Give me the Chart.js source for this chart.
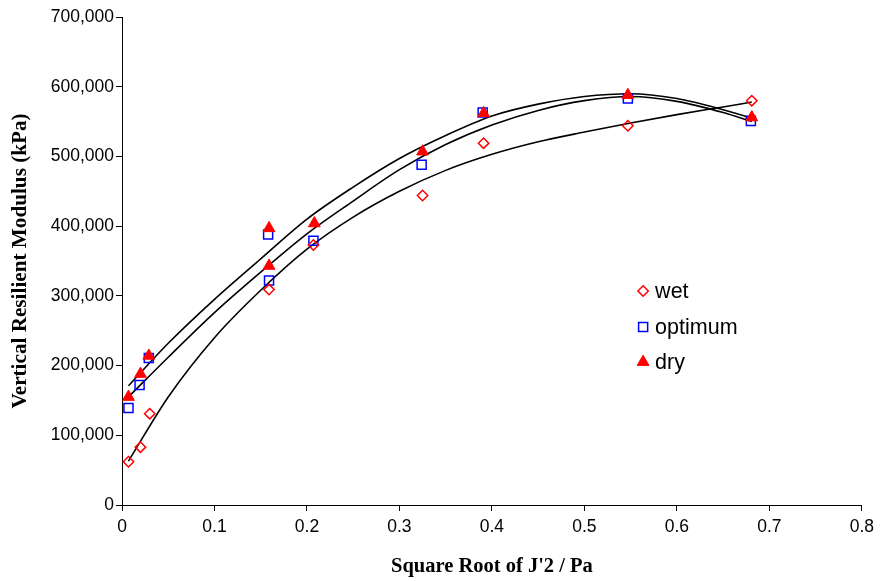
<!DOCTYPE html>
<html>
<head>
<meta charset="utf-8">
<script src="https://cdn.jsdelivr.net/npm/chart.js@4/dist/chart.umd.min.js"></script>
<style>
  html, body { margin: 0; padding: 0; background: #ffffff; }
  #wrap { width: 880px; height: 581px; }
</style>
</head>
<body>
<div id="wrap"><canvas id="c" width="880" height="581"></canvas></div>
<script>
// Measured resilient modulus (kPa) against square root of J'2 / Pa
const wetX = [0.007, 0.020, 0.030, 0.159, 0.207, 0.325, 0.391, 0.547, 0.681];
const wetY = [62000, 83000, 131000, 309000, 373000, 444000, 519000, 544000, 580000];

const optimumX = [0.007, 0.019, 0.029, 0.159, 0.158, 0.207, 0.324, 0.390, 0.547, 0.680];
const optimumY = [139000, 172000, 211000, 322000, 388000, 379000, 488000, 563000, 583000, 551000];

const dryX = [0.007, 0.020, 0.029, 0.159, 0.159, 0.208, 0.325, 0.391, 0.547, 0.681];
const dryY = [155000, 188000, 214000, 343000, 397000, 404000, 507000, 562000, 588000, 556000];

// Trend curves for each moisture condition
const trendX = [0.007, 0.05, 0.1, 0.15, 0.2, 0.25, 0.3, 0.35, 0.4, 0.45, 0.5, 0.55, 0.6, 0.65, 0.681];
const wetTrend = [63000, 155000, 240000, 308000, 367000, 413000, 450000, 480000, 503000, 521000, 535000, 548000, 560000, 571000, 578000];
const optimumTrend = [155000, 212000, 276000, 334000, 389000, 436000, 481000, 517000, 545000, 566000, 580000, 586000, 579000, 563000, 550000];
const dryTrend = [171000, 232000, 295000, 353000, 410000, 456000, 497000, 530000, 558000, 575000, 586000, 590000, 583000, 567000, 555000];

// Axis tick labels
const xTickLabels = ['0', '0.1', '0.2', '0.3', '0.4', '0.5', '0.6', '0.7', '0.8'];
const yTickLabels = ['0', '100,000', '200,000', '300,000', '400,000', '500,000', '600,000', '700,000'];

const seriesNames = ['wet', 'optimum', 'dry'];

const pairs = (xs, ys) => xs.map((x, i) => ({ x: x, y: ys[i] }));

const SANS = '"Liberation Sans", Arial, Helvetica, sans-serif';
const NARROW = '"Liberation Sans Narrow", "Arial Narrow", "Liberation Sans", Arial, sans-serif';
const SERIF = '"Liberation Serif", "Times New Roman", serif';

const trendStyle = {
  type: 'line',
  showLine: true,
  borderColor: '#000000',
  borderWidth: 1.6,
  pointRadius: 0,
  pointHoverRadius: 0,
  fill: false,
  cubicInterpolationMode: 'monotone',
  order: 5
};

const datasets = [
  {
    label: seriesNames[0],
    data: pairs(wetX, wetY),
    pointStyle: 'rectRot',
    pointRadius: 5.2,
    borderColor: '#ff0000',
    backgroundColor: 'rgba(255,255,255,0)',
    pointBorderWidth: 1.5,
    showLine: false,
    order: 1
  },
  {
    label: seriesNames[1],
    data: pairs(optimumX, optimumY),
    pointStyle: 'rect',
    pointRadius: 6.4,
    borderColor: '#0000ff',
    backgroundColor: 'rgba(255,255,255,0)',
    pointBorderWidth: 1.5,
    showLine: false,
    order: 1
  },
  {
    label: seriesNames[2],
    data: pairs(dryX, dryY),
    pointStyle: 'triangle',
    pointRadius: 6.8,
    borderColor: '#ff0000',
    backgroundColor: '#ff0000',
    pointBorderWidth: 1,
    showLine: false,
    order: 0
  },
  Object.assign({ label: 'wet trend', data: pairs(trendX, wetTrend) }, trendStyle),
  Object.assign({ label: 'optimum trend', data: pairs(trendX, optimumTrend) }, trendStyle),
  Object.assign({ label: 'dry trend', data: pairs(trendX, dryTrend) }, trendStyle)
];

// Legend drawn inside the plot area, one row per marker series
const insideLegend = {
  id: 'insideLegend',
  afterDatasetsDraw(chart) {
    const ctx = chart.ctx;
    const x0 = chart.scales.x.getPixelForValue(0.5635);
    const rows = [291, 327, 362];
    ctx.save();
    for (let i = 0; i < 3; i++) {
      const ds = chart.data.datasets[i];
      const y = rows[i];
      ctx.fillStyle = ds.backgroundColor;
      ctx.strokeStyle = ds.borderColor;
      ctx.lineWidth = ds.pointBorderWidth;
      Chart.helpers.drawPoint(ctx, {
        pointStyle: ds.pointStyle,
        radius: ds.pointRadius,
        rotation: 0,
        borderWidth: ds.pointBorderWidth
      }, x0, y);
      ctx.fillStyle = '#000000';
      ctx.font = '21.5px ' + SANS;
      ctx.textAlign = 'left';
      ctx.textBaseline = 'middle';
      ctx.fillText(ds.label, x0 + 12, y + 1);
    }
    ctx.restore();
  }
};

new Chart(document.getElementById('c'), {
  type: 'scatter',
  data: { datasets: datasets },
  plugins: [insideLegend],
  options: {
    responsive: false,
    animation: false,
    devicePixelRatio: 1,
    layout: { padding: { top: 17, right: 16, left: 0, bottom: 0 } },
    plugins: {
      legend: { display: false },
      tooltip: { enabled: false },
      title: { display: false }
    },
    scales: {
      x: {
        type: 'linear',
        min: 0,
        max: 0.8,
        afterFit(scale) { scale.height = 76; },
        border: { display: true, color: '#000000', width: 1 },
        grid: { display: true, drawOnChartArea: false, drawTicks: true, tickLength: 6, color: '#000000', tickColor: '#000000' },
        ticks: {
          stepSize: 0.1,
          padding: 6,
          color: '#000000',
          font: { family: NARROW, size: 17.5 },
          maxRotation: 0,
          autoSkip: false,
          callback: (v, i) => xTickLabels[i]
        },
        title: {
          display: true,
          text: "Square Root of J'2 / Pa",
          color: '#000000',
          font: { family: SERIF, size: 20.5, weight: 'bold' },
          padding: { top: 0, bottom: 2 }
        }
      },
      y: {
        type: 'linear',
        min: 0,
        max: 700000,
        afterFit(scale) { scale.width = 122; },
        border: { display: true, color: '#000000', width: 1 },
        grid: { display: true, drawOnChartArea: false, drawTicks: true, tickLength: 6, color: '#000000', tickColor: '#000000' },
        ticks: {
          stepSize: 100000,
          padding: 2,
          color: '#000000',
          font: { family: NARROW, size: 17.5 },
          autoSkip: false,
          callback: (v, i) => yTickLabels[i]
        },
        title: {
          display: true,
          text: 'Vertical Resilient Modulus (kPa)',
          color: '#000000',
          font: { family: SERIF, size: 21.2, weight: 'bold' },
          padding: { top: 8, bottom: 0 }
        }
      }
    }
  }
});
</script>
</body>
</html>
